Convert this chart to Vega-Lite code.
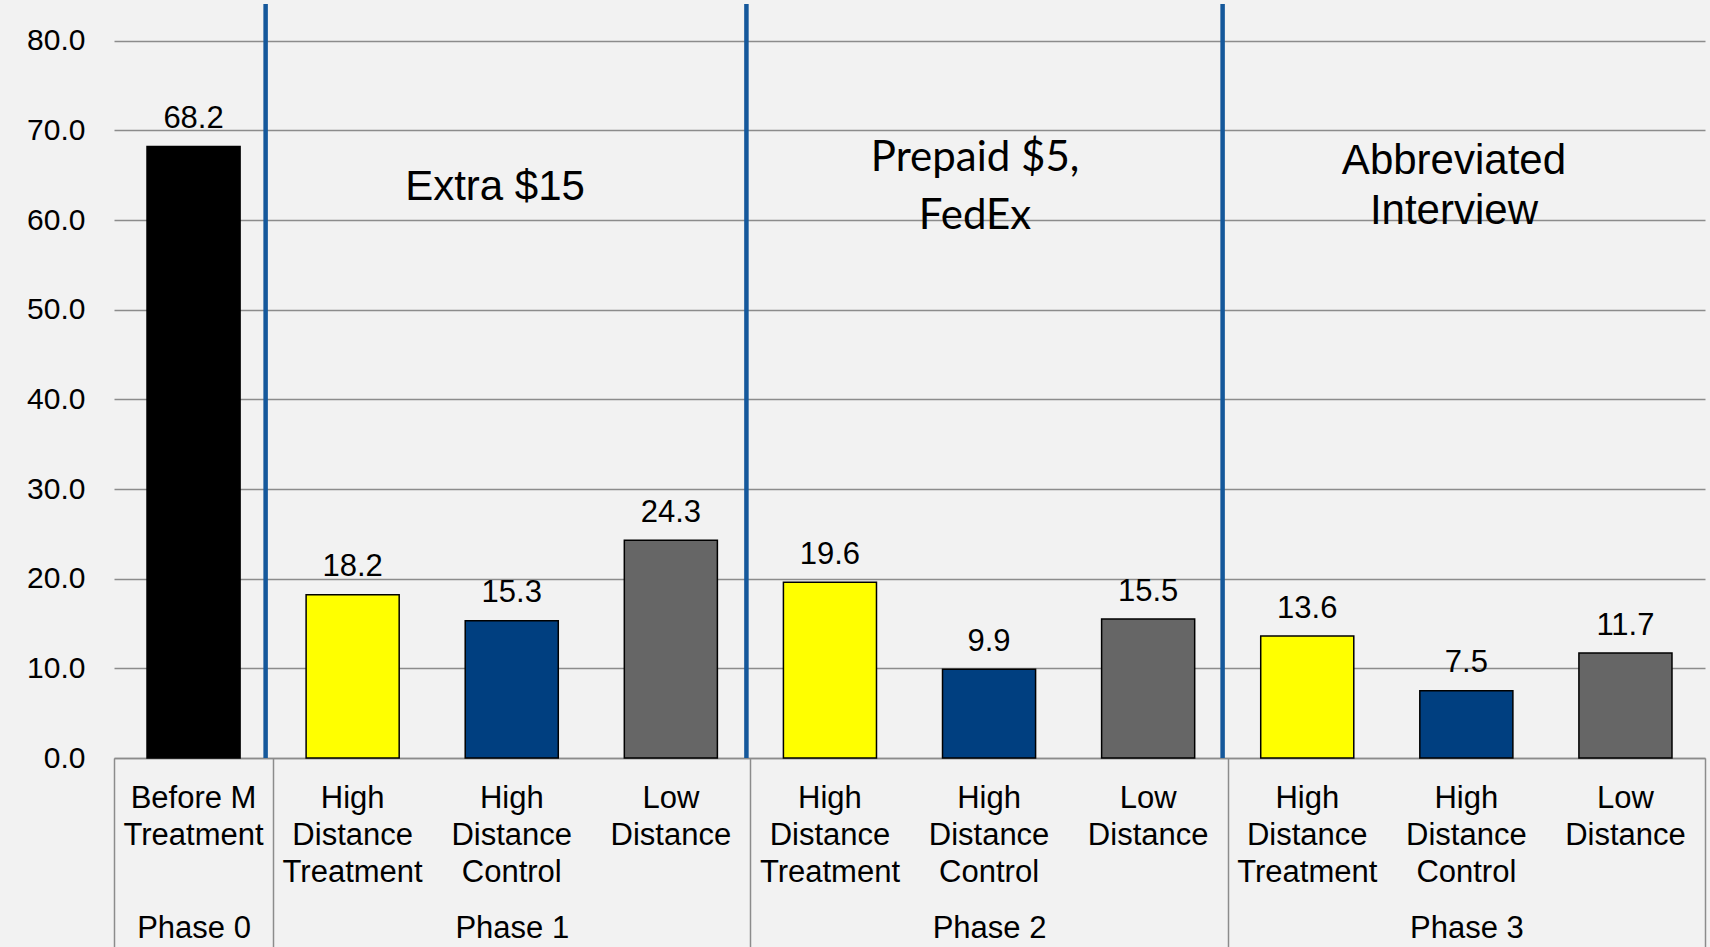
{
  "$schema": "https://vega.github.io/schema/vega-lite/v6.json",
  "width": 1591,
  "height": 754,
  "autosize": {"type": "none"},
  "padding": {"left": 114, "top": 4, "right": 5, "bottom": 189},
  "background": "#f2f2f2",
  "config": {"view": {"stroke": null}, "font": "Liberation Sans"},
  "layer": [
    {
      "data": {
        "values": [
          {"key": "0|Before M|Treatment", "group": "Before M Treatment", "value": 68.2},
          {"key": "1|High|Distance|Treatment", "group": "High Distance Treatment", "value": 18.2},
          {"key": "1|High|Distance|Control", "group": "High Distance Control", "value": 15.3},
          {"key": "1|Low|Distance", "group": "Low Distance", "value": 24.3},
          {"key": "2|High|Distance|Treatment", "group": "High Distance Treatment", "value": 19.6},
          {"key": "2|High|Distance|Control", "group": "High Distance Control", "value": 9.9},
          {"key": "2|Low|Distance", "group": "Low Distance", "value": 15.5},
          {"key": "3|High|Distance|Treatment", "group": "High Distance Treatment", "value": 13.6},
          {"key": "3|High|Distance|Control", "group": "High Distance Control", "value": 7.5},
          {"key": "3|Low|Distance", "group": "Low Distance", "value": 11.7}
        ]
      },
      "encoding": {
        "x": {
          "field": "key", "type": "nominal", "sort": null,
          "scale": {"paddingInner": 0.415, "paddingOuter": 0.2075},
          "axis": {
            "title": null, "labelAngle": 0, "ticks": false, "tickSize": 0,
            "domain": true, "domainColor": "#8c8c8c", "domainWidth": 1.5,
            "labelFontSize": 31, "labelLineHeight": 37, "labelPadding": 25,
            "labelColor": "#000000", "labelFont": "Liberation Sans",
            "labelOverlap": false, "labelLimit": 0, "labelBound": false,
            "labelExpr": "slice(split(datum.label, '|'), 1)"
          }
        },
        "y": {
          "field": "value", "type": "quantitative",
          "scale": {"domain": [0, 84.1], "nice": false, "zero": true},
          "axis": {
            "title": null, "values": [0, 10, 20, 30, 40, 50, 60, 70, 80],
            "format": ".1f", "domain": false, "ticks": false, "tickSize": 0,
            "grid": true, "gridColor": "#8c8c8c", "gridWidth": 1.5,
            "labelFontSize": 30, "labelPadding": 29, "labelColor": "#000000",
            "labelFont": "Liberation Sans"
          }
        }
      },
      "layer": [
        {
          "mark": {"type": "bar", "stroke": "#000000", "strokeWidth": 1.5},
          "encoding": {
            "color": {
              "field": "group", "type": "nominal", "legend": null,
              "scale": {
                "domain": ["Before M Treatment", "High Distance Treatment", "High Distance Control", "Low Distance"],
                "range": ["#000000", "#ffff00", "#003f80", "#666666"]
              }
            }
          }
        },
        {
          "mark": {"type": "text", "dy": -18.5, "fontSize": 31, "color": "#000000", "baseline": "alphabetic", "font": "Liberation Sans"},
          "encoding": {
            "text": {"field": "value", "type": "quantitative", "format": ".1f"}
          }
        }
      ]
    },
    {
      "data": {"values": [{"pos": 0.953}, {"pos": 3.975}, {"pos": 6.968}]},
      "mark": {"type": "rule", "color": "#15589b", "strokeWidth": 4.5},
      "encoding": {
        "x": {
          "field": "pos", "type": "quantitative",
          "scale": {"domain": [0, 10], "nice": false, "zero": false},
          "axis": {
            "orient": "bottom", "values": [0, 1, 4, 7, 10], "labels": false,
            "domain": false, "grid": false, "ticks": true, "tickSize": 189,
            "tickColor": "#8c8c8c", "tickWidth": 1.5, "title": null
          }
        }
      }
    },
    {
      "data": {
        "values": [
          {"note": "Extra $15", "px": 2.395, "py": 65.92},
          {"note": "Prepaid $5,\nFedEx", "px": 5.412, "py": 69.15},
          {"note": "Abbreviated\nInterview", "px": 8.422, "py": 68.82}
        ]
      },
      "encoding": {
        "x": {
          "field": "px", "type": "quantitative",
          "scale": {"domain": [0, 10], "nice": false, "zero": false},
          "axis": {
            "orient": "bottom", "values": [0.5, 2.5, 5.5, 8.5],
            "labelExpr": "datum.value < 1 ? 'Phase 0' : datum.value < 4 ? 'Phase 1' : datum.value < 7 ? 'Phase 2' : 'Phase 3'",
            "ticks": false, "tickSize": 0, "domain": false, "grid": false,
            "labelPadding": 155, "labelFontSize": 31, "labelColor": "#000000",
            "labelFont": "Liberation Sans", "title": null, "labelBound": false,
            "labelFlush": false, "labelOverlap": false
          }
        },
        "y": {"field": "py", "type": "quantitative"},
        "text": {"field": "note", "type": "nominal"}
      },
      "layer": [
        {
          "transform": [{"filter": "indexof(datum.note, 'Extra') >= 0"}],
          "mark": {"type": "text", "font": "Liberation Sans", "fontSize": 42, "baseline": "top", "align": "center", "color": "#000000", "lineBreak": "\n"}
        },
        {
          "transform": [{"filter": "indexof(datum.note, 'Prepaid') >= 0"}],
          "mark": {"type": "text", "font": "Lato", "fontSize": 42, "baseline": "top", "align": "center", "color": "#000000", "lineBreak": "\n", "lineHeight": 58}
        },
        {
          "transform": [{"filter": "indexof(datum.note, 'Abbreviated') >= 0"}],
          "mark": {"type": "text", "font": "Liberation Sans", "fontSize": 42, "baseline": "top", "align": "center", "color": "#000000", "lineBreak": "\n", "lineHeight": 50}
        }
      ]
    }
  ],
  "resolve": {"scale": {"x": "independent"}}
}
